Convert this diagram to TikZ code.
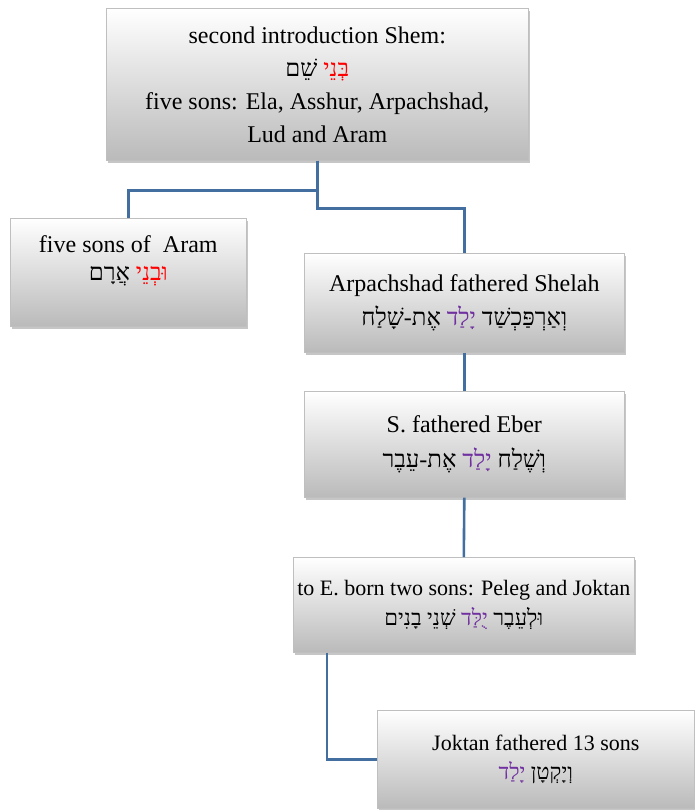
\documentclass[tikz,border=0pt]{standalone}
\usepackage{fontspec}
\setmainfont{Liberation Serif}
\newfontfamily\hebfont[Script=Hebrew]{Liberation Serif}
\TeXXeTstate=1
\usetikzlibrary{shadows}

\definecolor{linkblue}{RGB}{66,110,160}
\definecolor{yldpurple}{RGB}{112,48,160}
% one Hebrew word, set right to left
\newcommand{\hw}[1]{{\hebfont\beginR #1\endR}}

\tikzset{
  famblock/.style={
    draw=black!25,
    line width=0.6pt,
    top color=white,
    bottom color=black!27,
    drop shadow={shadow xshift=2pt,shadow yshift=-3pt,opacity=0.45},
    align=center,
    anchor=north west,
    inner sep=0pt,
    font=\fontsize{24}{33}\selectfont
  },
  famlink/.style={linkblue,line width=2.6pt}
}

\begin{document}
\begin{tikzpicture}[x=1pt,y=-1pt]
        \useasboundingbox (0,0) rectangle (694,810);

        \node [famblock,minimum width=422pt,minimum height=152pt]
          (shem) at (106,8)
          {second introduction Shem:\\
           \hw{שֵׁם} \textcolor{red}{\hw{בְּנֵי}}\\
           five sons: Ela, Asshur, Arpachshad,\\
           Lud and Aram};
        \node [famblock,minimum width=236pt,minimum height=108pt,
               text depth=28pt,font=\fontsize{24}{28}\selectfont]
          (aram) at (10,218)
          {five sons of~ Aram\\
           \hw{אֲרָם} \textcolor{red}{\hw{וּבְנֵי}}};
        \node [famblock,minimum width=320pt,minimum height=99pt,
               font=\fontsize{24}{34}\selectfont]
          (arpa) at (304,253)
          {Arpachshad fathered Shelah\\
           \hw{אֶת-שָׁלַח} \textcolor{yldpurple}{\hw{יָלַד}} \hw{וְאַרְפַּכְשַׁד}};
        \node [famblock,minimum width=320pt,minimum height=106pt,
               font=\fontsize{24}{35}\selectfont]
          (eber) at (304,391)
          {S. fathered Eber\\
           \hw{אֶת-עֵבֶר} \textcolor{yldpurple}{\hw{יָלַד}} \hw{וְשֶׁלַח}};
        \node [famblock,minimum width=341pt,minimum height=95pt,
               font=\fontsize{22}{30}\selectfont]
          (twosons) at (293,557)
          {to E. born two sons: Peleg and Joktan\\
           \hw{בָנִים} \hw{שְׁנֵי} \textcolor{yldpurple}{\hw{יֻלַּד}} \hw{וּלְעֵבֶר}};
        \node [famblock,minimum width=317pt,minimum height=98pt,
               font=\fontsize{22}{29}\selectfont]
          (joktan) at (377,710)
          {Joktan fathered 13 sons\\
           \textcolor{yldpurple}{\hw{יָלַד}} \hw{וְיָקְטָן}};

        % connectors
        \draw [famlink]
          (shem.south)
          -- ++(0,30)
          -| (aram.north)
        ;
        \draw [famlink]
          (shem.south)
          -- ++(0,48)
          -| (arpa.north)
        ;
        \draw [famlink]
          (arpa.south)
          -- (eber.north)
        ;
        \draw [famlink]
          (eber.south)
          -- (twosons.north)
        ;
        \draw [famlink]
          ([xshift=34pt]twosons.south west)
          |- (joktan.west)
        ;
      \end{tikzpicture}
\end{document}
